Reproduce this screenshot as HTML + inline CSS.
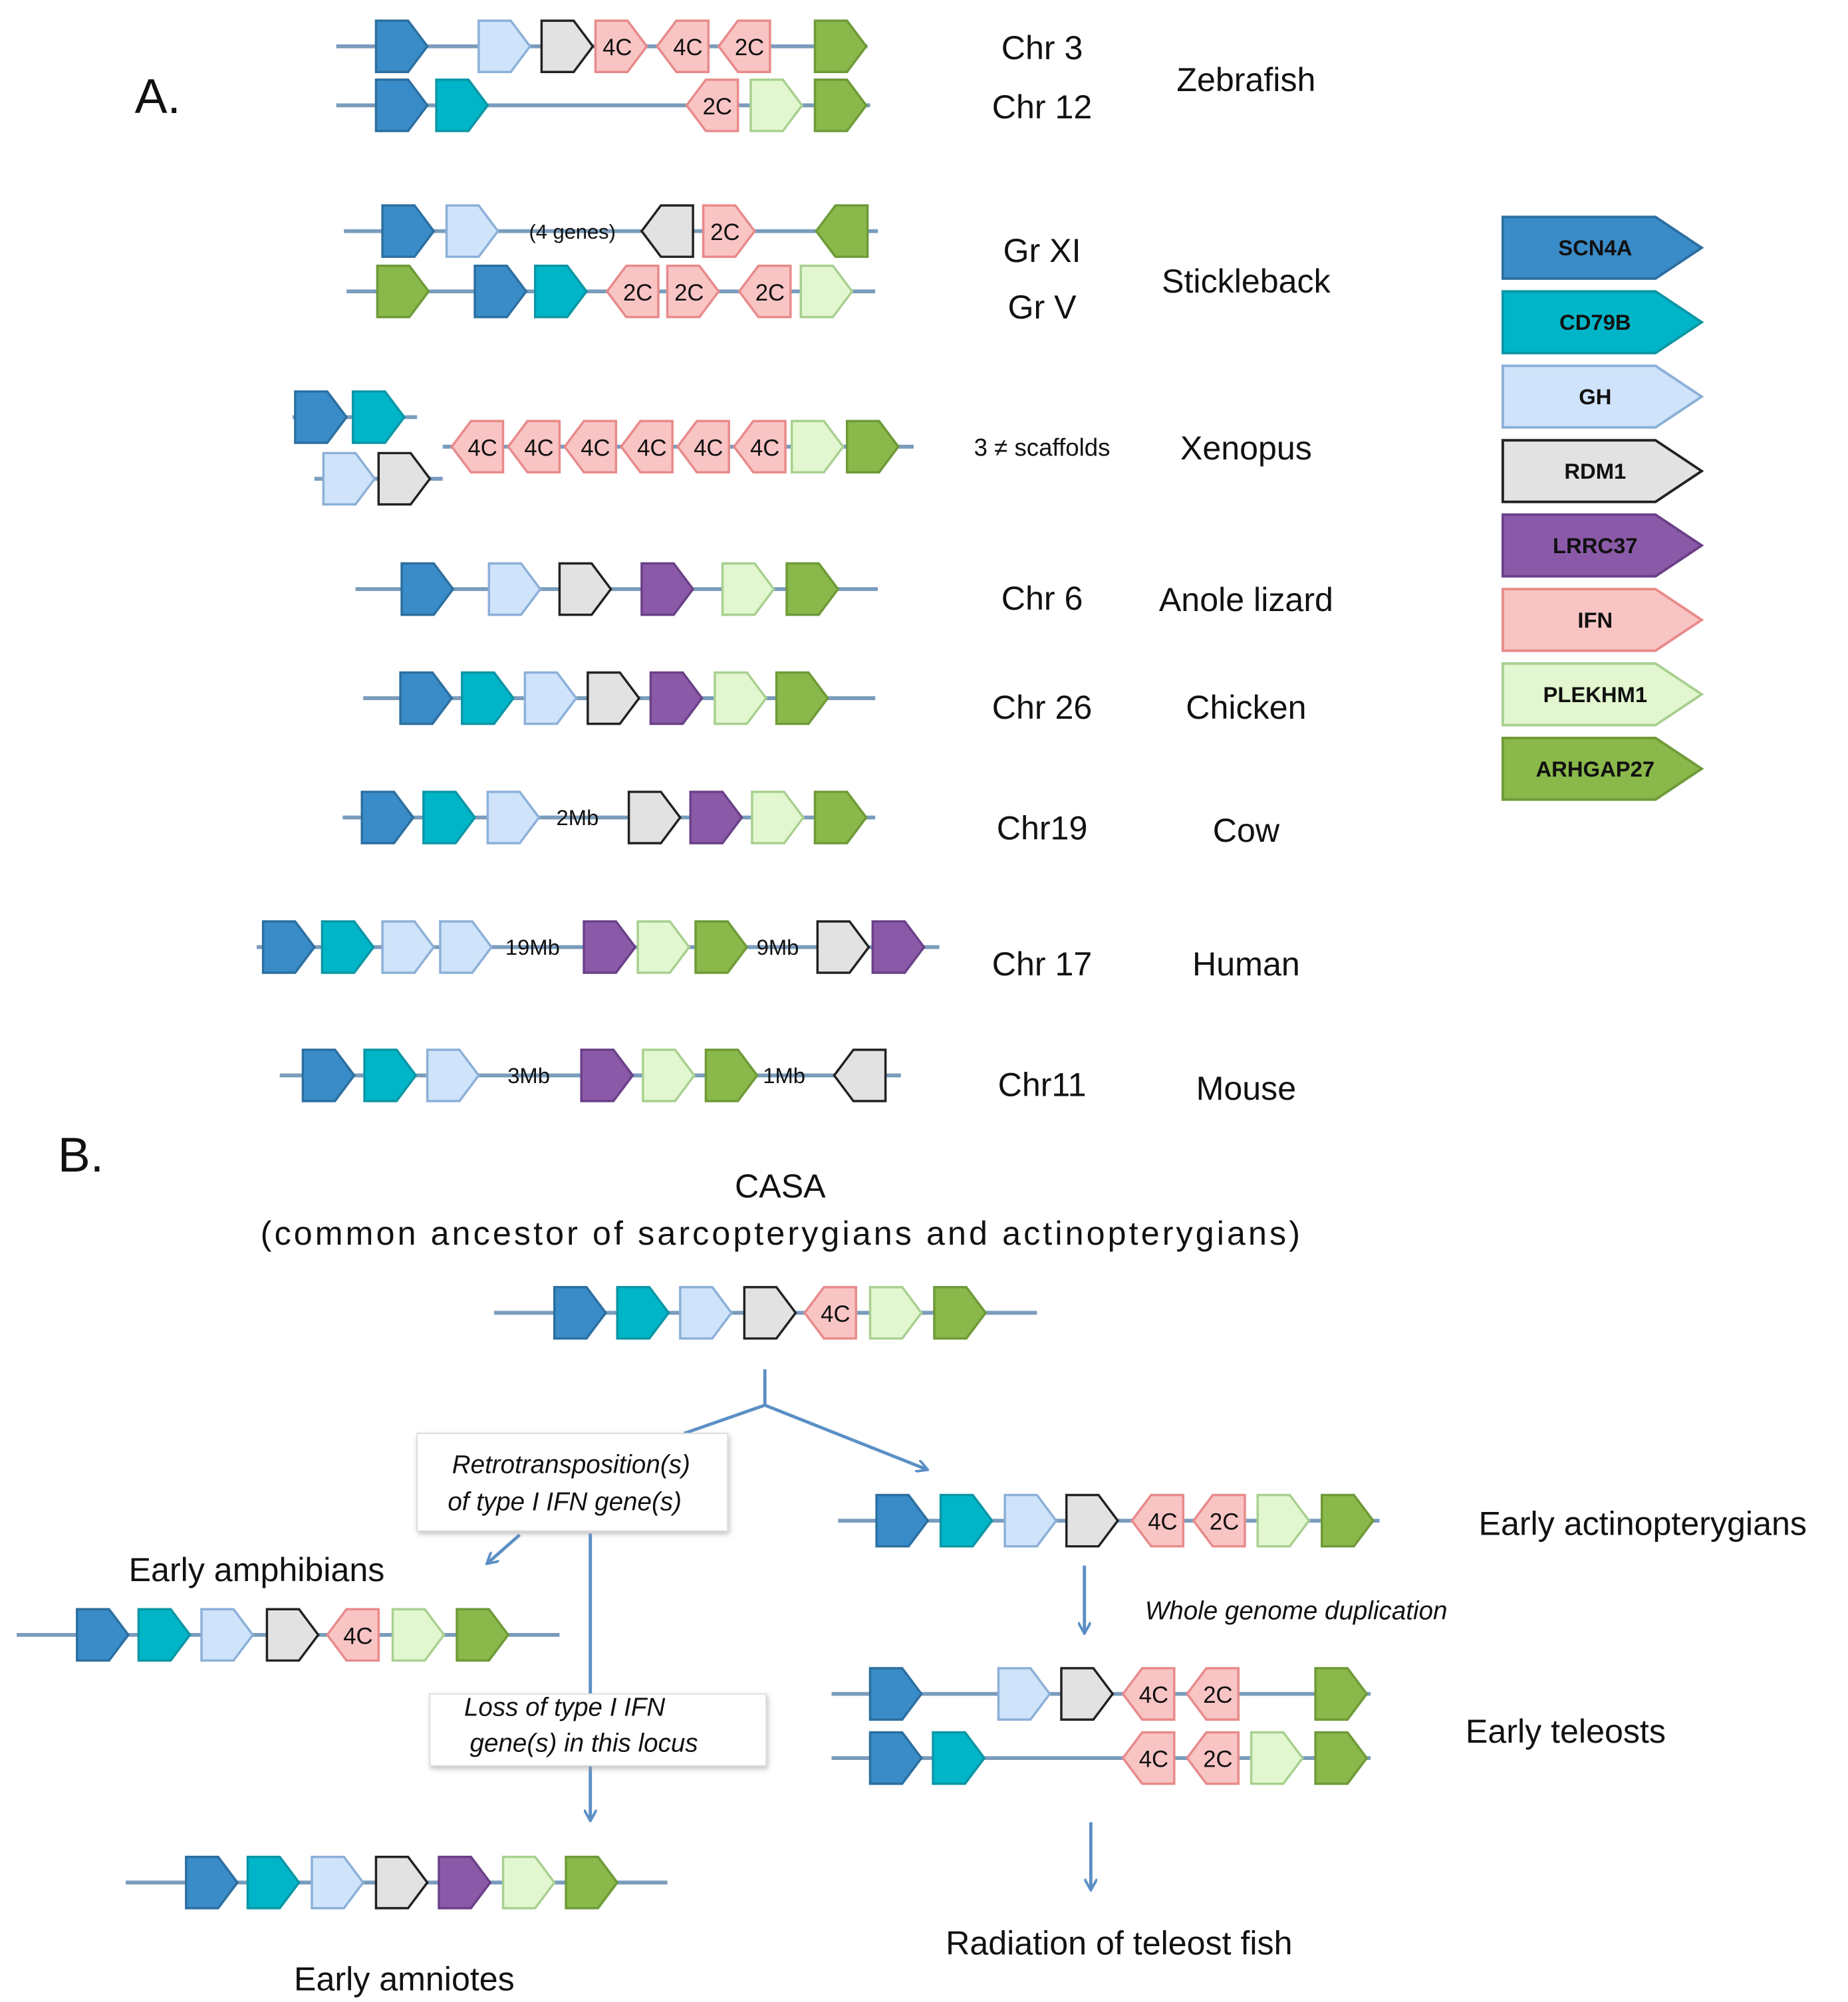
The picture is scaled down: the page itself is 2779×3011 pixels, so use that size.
<!DOCTYPE html>
<html><head><meta charset="utf-8"><style>
html,body{margin:0;padding:0;background:#fff;width:2779px;height:3011px;overflow:hidden}
svg{display:block}
text{font-family:"Liberation Sans","DejaVu Sans",sans-serif;fill:#111}
</style></head><body>
<svg id="s" width="2779" height="3011" viewBox="0 0 1440 1560" xmlns="http://www.w3.org/2000/svg">
<defs>
<marker id="ar" markerWidth="10" markerHeight="10" refX="8" refY="5" orient="auto" markerUnits="userSpaceOnUse"><path d="M0,0 L9,5 L0,10" fill="none" stroke="#5b8fc5" stroke-width="2"/></marker>
<filter id="sh" x="-10%" y="-10%" width="130%" height="140%"><feDropShadow dx="1" dy="2" stdDeviation="2" flood-color="#999" flood-opacity="0.6"/></filter>
</defs>
<g id="g"></g>
<text x="105" y="88" font-size="38">A.</text>
<text x="45" y="913" font-size="38">B.</text>
<g font-size="26" text-anchor="middle">
<text x="812" y="46">Chr 3</text><text x="812" y="92">Chr 12</text><text x="971" y="71">Zebrafish</text>
<text x="812" y="204">Gr XI</text><text x="812" y="248">Gr V</text><text x="971" y="228">Stickleback</text>
<text x="971" y="358">Xenopus</text>
<text x="812" y="475">Chr 6</text><text x="971" y="476">Anole lizard</text>
<text x="812" y="560">Chr 26</text><text x="971" y="560">Chicken</text>
<text x="812" y="654">Chr19</text><text x="971" y="656">Cow</text>
<text x="812" y="760">Chr 17</text><text x="971" y="760">Human</text>
<text x="812" y="854">Chr11</text><text x="971" y="857">Mouse</text>
<text x="608" y="933">CASA</text>
<text x="203" y="970" text-anchor="start" textLength="810" lengthAdjust="spacing">(common ancestor of sarcopterygians and actinopterygians)</text>
<text x="200" y="1232">Early amphibians</text>
<text x="315" y="1551">Early amniotes</text>
<text x="1280" y="1196">Early actinopterygians</text>
<text x="1220" y="1358">Early teleosts</text>
<text x="872" y="1523">Radiation of teleost fish</text>
</g>
<text x="812" y="355" font-size="19" text-anchor="middle">3 ≠ scaffolds</text>
<g stroke="#5b8fc5" stroke-width="2.5" fill="none">
<line x1="596" y1="1067" x2="596" y2="1095"/>
<line x1="596" y1="1095" x2="533" y2="1117"/>
<line x1="596" y1="1095" x2="722" y2="1145" marker-end="url(#ar)"/>
<line x1="405" y1="1196" x2="380" y2="1218" marker-end="url(#ar)"/>
<line x1="460" y1="1195" x2="460" y2="1418" marker-end="url(#ar)"/>
<line x1="845" y1="1220" x2="845" y2="1272" marker-end="url(#ar)"/>
<line x1="850" y1="1420" x2="850" y2="1472" marker-end="url(#ar)"/>
</g>
<rect x="325" y="1117" width="242" height="76" fill="#fff" stroke="#ddd" filter="url(#sh)"/>
<rect x="335" y="1320" width="262" height="56" fill="#fff" stroke="#ddd" filter="url(#sh)"/>
<g font-size="20" font-style="italic" text-anchor="middle">
<text x="445" y="1148">Retrotransposition(s)</text>
<text x="440" y="1177">of type I IFN gene(s)</text>
<text x="440" y="1337">Loss of type I IFN</text>
<text x="455" y="1365">gene(s) in this locus</text>
<text x="1010" y="1262">Whole genome duplication</text>
</g>
</svg>
<script>
var C={S:["#3a8cc8","#2c6fa0"],C:["#00b5c8","#0a96a5"],G:["#cfe3fa","#8cb0d8"],R:["#e2e2e2","#222"],L:["#8a5aa8","#6a4088"],I:["#f9c4c4","#e88a8a"],P:["#e2f7d0","#a8d090"],A:["#8ab84a","#6e9a38"]};
var g=document.getElementById("g"),h="";
function line(x1,x2,y){h+='<line x1="'+x1+'" y1="'+y+'" x2="'+x2+'" y2="'+y+'" stroke="#7a9cbc" stroke-width="3"/>';}
function gene(k,x,y,left,lab){var c=C[k],d;
 if(!left)d="M"+x+","+(y-20)+"H"+(x+25)+"L"+(x+40)+","+y+"L"+(x+25)+","+(y+20)+"H"+x+"Z";
 else d="M"+(x+40)+","+(y-20)+"H"+(x+15)+"L"+x+","+y+"L"+(x+15)+","+(y+20)+"H"+(x+40)+"Z";
 h+='<path d="'+d+'" fill="'+c[0]+'" stroke="'+c[1]+'" stroke-width="1.8"/>';
 if(lab)h+='<text x="'+(x+(left?24:17))+'" y="'+(y+7)+'" font-size="18" text-anchor="middle" fill="#6a1010">'+lab+'</text>';}
function txt(s,x,y,fs){h+='<text x="'+x+'" y="'+(y+6)+'" font-size="'+(fs||17)+'" text-anchor="middle">'+s+'</text>';}
function row(y,x1,x2,list){line(x1,x2,y);list.forEach(function(e){if(e[0]=="T")txt(e[1],e[2],y,e[3]);else gene(e[0],e[1],y,e[2],e[3]);});}
row(36,262,676,[["S",293],["G",373],["R",422],["I",464,0,"4C"],["I",512,1,"4C"],["I",560,1,"2C"],["A",635]]);
row(82,262,678,[["S",293],["C",340],["I",535,1,"2C"],["P",585],["A",635]]);
row(180,268,684,[["S",298],["G",348],["T","(4 genes)",446,16],["R",500,1],["I",548,0,"2C"],["A",636,1]]);
row(227,270,682,[["A",294],["S",370],["C",417],["I",473,1,"2C"],["I",520,0,"2C"],["I",576,1,"2C"],["P",624]]);
row(325,228,325,[["S",230],["C",275]]);
row(373,245,345,[["G",252],["R",295]]);
row(348,345,712,[["I",352,1,"4C"],["I",396,1,"4C"],["I",440,1,"4C"],["I",484,1,"4C"],["I",528,1,"4C"],["I",572,1,"4C"],["P",617],["A",660]]);
row(459,277,684,[["S",313],["G",381],["R",436],["L",500],["P",563],["A",613]]);
row(544,283,682,[["S",312],["C",360],["G",409],["R",458],["L",507],["P",557],["A",605]]);
row(637,267,682,[["S",282],["C",330],["G",380],["T","2Mb",450],["R",490],["L",538],["P",586],["A",635]]);
row(738,200,732,[["S",205],["C",251],["G",298],["G",343],["T","19Mb",415],["L",455],["P",497],["A",542],["T","9Mb",606],["R",637],["L",680]]);
row(838,218,702,[["S",236],["C",284],["G",333],["T","3Mb",412],["L",453],["P",501],["A",550],["T","1Mb",611],["R",650,1]]);
row(1023,385,808,[["S",432],["C",481],["G",530],["R",580],["I",627,1,"4C"],["P",678],["A",728]]);
row(1274,13,436,[["S",60],["C",108],["G",157],["R",208],["I",255,1,"4C"],["P",306],["A",356]]);
row(1467,98,520,[["S",145],["C",193],["G",243],["R",293],["L",342],["P",392],["A",441]]);
row(1185,653,1075,[["S",683],["C",733],["G",783],["R",831],["I",882,1,"4C"],["I",930,1,"2C"],["P",980],["A",1030]]);
row(1320,648,1068,[["S",678],["G",778],["R",827],["I",875,1,"4C"],["I",925,1,"2C"],["A",1025]]);
row(1370,648,1068,[["S",678],["C",727],["I",875,1,"4C"],["I",925,1,"2C"],["P",975],["A",1025]]);
var L=[["S","SCN4A"],["C","CD79B"],["G","GH"],["R","RDM1"],["L","LRRC37"],["I","IFN"],["P","PLEKHM1"],["A","ARHGAP27"]];
L.forEach(function(e,i){var y=169+i*58,c=C[e[0]];
 h+='<path d="M1171,'+y+'H1290L1326,'+(y+24)+'L1290,'+(y+48)+'H1171Z" fill="'+c[0]+'" stroke="'+c[1]+'" stroke-width="2"/>';
 h+='<text x="1243" y="'+(y+30)+'" font-size="17" font-weight="bold" text-anchor="middle" fill="#111">'+e[1]+'</text>';});
g.innerHTML=h;
</script>
</body></html>
